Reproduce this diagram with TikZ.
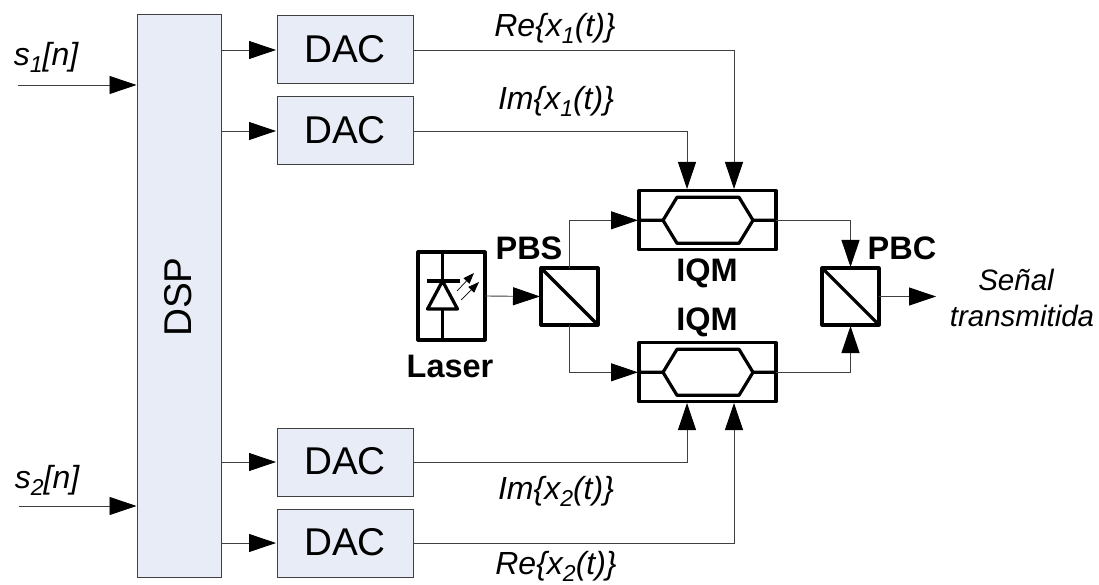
\documentclass[tikz,border=0pt]{standalone}
\usepackage{fontspec}
\setmainfont{Liberation Sans}
\usetikzlibrary{arrows.meta}
\definecolor{boxfill}{HTML}{E8ECF6}
\newcommand{\subidx}[1]{\raisebox{-0.22em}{\fontsize{23}{24}\selectfont #1}}
\tikzset{
  wire/.style={draw=black!75,line width=0.9pt,-{Triangle[length=27pt,width=18pt,black]},shorten >=1pt},
  bluebox/.style={draw=black!75,line width=1pt,fill=boxfill,inner sep=0pt,outer sep=0pt},
  thick box/.style={draw=black,line width=3.2pt,line join=round,inner sep=0pt,outer sep=0pt},
  lab/.style={inner sep=0pt,font=\fontsize{38.7}{40}\selectfont},
  blab/.style={inner sep=0pt,font=\fontsize{32.5}{34}\selectfont\bfseries},
  ilab/.style={inner sep=0pt,font=\fontsize{32}{36}\selectfont\itshape},
  siglab/.style={inner sep=0pt,align=center,font=\fontsize{29.5}{36}\selectfont\itshape},
  optic/.style={draw=black,line width=3.2pt,line join=round},
  ray/.style={draw=black,line width=0.7pt,-{Triangle[length=11pt,width=8pt]}},
}
\begin{document}
\begin{tikzpicture}[x=1pt,y=-1pt]
\useasboundingbox (0,0) rectangle (1099,585);
\fill[white] (0,0) rectangle (1099,585);
% DSP
\node[bluebox,minimum width=84pt,minimum height=563pt] (dsp) at (179.5,296.3) {};
\node[lab,rotate=90] (dsplab) at (178,297) {DSP};
% DAC
\foreach \n/\y in {a/50,b/131,c/462,d/543}{
  \node[bluebox,minimum width=136pt,minimum height=68pt] (dac\n) at (345,\y) {};
  \node[lab] (dl\n) at (345,\y-1) {DAC};
  \coordinate (ds\n) at (dsp.east |- dac\n);
  \draw[wire] (ds\n) -- (dac\n.west);
}
% inputs
\coordinate (s1) at (18,85);
\coordinate (s2) at (19,506);
\draw[wire] (s1) -- (s1 -| dsp.west);
\draw[wire] (s2) -- (s2 -| dsp.west);
\node[ilab] (s1l) at (46,57) {s\subidx{1}[n]};
\node[ilab] (s2l) at (47,480) {s\subidx{2}[n]};
% IQM
\node[thick box,minimum width=137pt,minimum height=59pt] (iq1) at (707.5,220.3) {};
\node[thick box,minimum width=137pt,minimum height=59pt] (iq2) at (707.5,372.3) {};
\foreach \q in {iq1,iq2}{
  \draw[optic] (\q.west) -- ++(24,0) -- ++(14,-23) -- ++(62,0) -- ++(14,23) -- (\q.east);
  \draw[optic] (\q.west) ++(24,0) -- ++(14,23) -- ++(62,0) -- ++(14,-23);
}
\node[blab] (iq1l) at (707,273) {IQM};
\node[blab] (iq2l) at (707,322) {IQM};
% PBS PBC
\node[thick box,minimum size=57pt] (pbs) at (569.5,296.5) {};
\draw[optic] (pbs.north west) -- (pbs.south east);
\node[thick box,minimum size=57pt] (pbc) at (850.5,296.5) {};
\draw[optic] (pbc.north west) -- (pbc.south east);
\node[blab] (pbsl) at (529,248) {PBS};
\node[blab] (pbcl) at (902,248) {PBC};
% Laser
\node[thick box,minimum width=67pt,minimum height=88pt] (las) at (451.5,296) {};
\coordinate (lt) at ([xshift=-9pt]las.north);
\draw[optic] (lt) -- ++(0,29);
\draw[optic] (lt) ++(-16,29) -- ++(33,0);
\draw[optic] (lt) ++(0,29) -- ++(-15,28) -- ++(30,0) -- cycle;
\draw[optic] (lt) ++(0,57) -- (lt |- las.south);
\coordinate (ra1) at (457,291);
\coordinate (ra2) at (474,273);
\coordinate (rb1) at (461,300);
\coordinate (rb2) at (479,282);
\draw[ray] (ra1) -- (ra2);
\draw[ray] (rb1) -- (rb2);
\node[blab] (lasl) at (450,366) {Laser};
% optical wires
\draw[wire] (las.east) -- (pbs.west);
\draw[wire] (pbs.north) |- (iq1.west);
\draw[wire] (pbs.south) |- (iq2.west);
\draw[wire] (iq1.east) -| (pbc.north);
\draw[wire] (iq2.east) -| (pbc.south);
\coordinate (out) at (937,296.5);
\draw[wire] (pbc.east) -- (out);
\node[siglab] (sig) at (1022,298) {Señal\hspace*{12pt}\\transmitida};
% RF
\coordinate (i1a) at (734,190);
\coordinate (i1b) at (687,190);
\coordinate (i2a) at (734,402);
\coordinate (i2b) at (687,402);
\draw[wire] (daca.east) -| (i1a);
\draw[wire] (dacb.east) -| (i1b);
\draw[wire] (dacc.east) -| (i2b);
\draw[wire] (dacd.east) -| (i2a);
\node[ilab] (ra) at (555,28) {Re\{x\subidx{1}(t)\}};
\node[ilab] (rb) at (556,101) {Im\{x\subidx{1}(t)\}};
\node[ilab] (rc) at (556,491) {Im\{x\subidx{2}(t)\}};
\node[ilab] (rd) at (556,566) {Re\{x\subidx{2}(t)\}};
\end{tikzpicture}
\end{document}
